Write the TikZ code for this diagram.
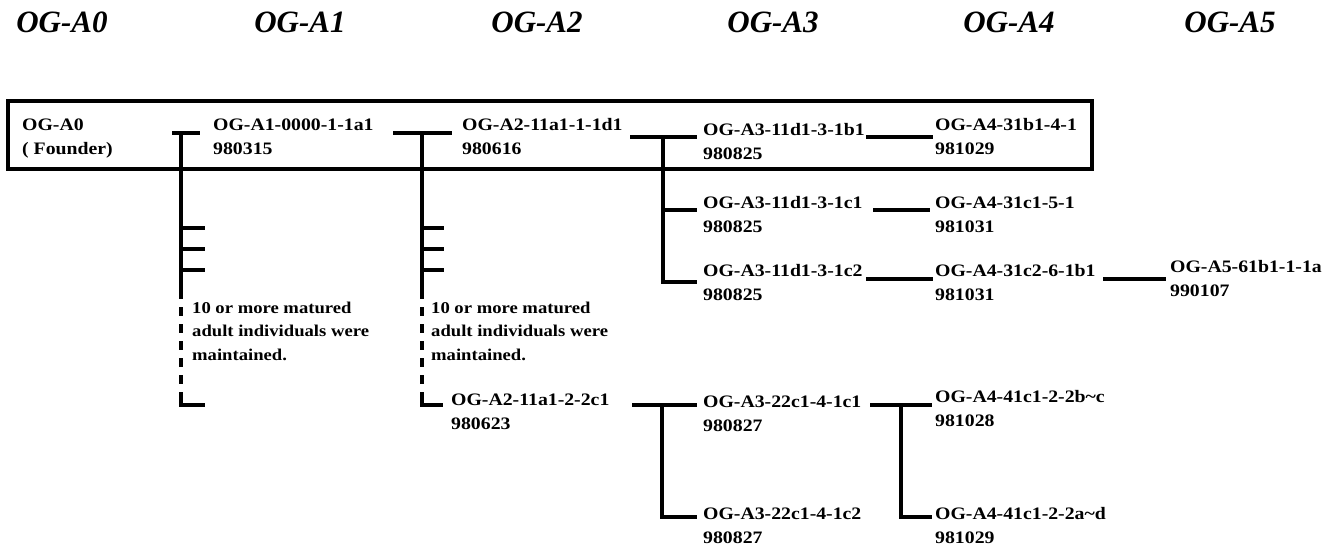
\documentclass[tikz,border=0pt]{standalone}
\usepackage{fontspec}
\setmainfont{Liberation Serif}
\newfontfamily\labfont{Liberation Serif}[FakeStretch=1.13]
\begin{document}
\begin{tikzpicture}[x=1pt,y=-1pt,
  hdr/.style={inner sep=0pt, font=\bfseries\itshape\fontsize{31}{36}\selectfont},
  lab/.style={anchor=base west, align=left, inner sep=0pt, font=\labfont\bfseries\fontsize{17.5}{24}\selectfont},
  note/.style={anchor=base west, align=left, inner sep=0pt, font=\labfont\bfseries\fontsize{16.5}{23.5}\selectfont},
  conn/.style={line width=3.2pt, line join=miter},
  dconn/.style={line width=3.2pt, dash pattern=on 9pt off 8pt},
  frame/.style={line width=3.2pt}]
\useasboundingbox (0,0) rectangle (1337,546);

% headers
\node[hdr] (h0) at (62,22) {OG-A0};
\node[hdr] (h1) at (300,22) {OG-A1};
\node[hdr] (h2) at (537,22) {OG-A2};
\node[hdr] (h3) at (773,22) {OG-A3};
\node[hdr] (h4) at (1009,22) {OG-A4};
\node[hdr] (h5) at (1230,22) {OG-A5};

% frame
\coordinate (fa) at (8,101);
\coordinate (fb) at (1092,169);
\draw[frame] (fa) rectangle (fb);

% labels (base anchor = baseline of the last line)
\node[lab] (a0) at (22,154) {OG-A0\\( Founder)};
\node[lab] (a1) at (213,154) {OG-A1-0000-1-1a1\\980315};
\node[lab] (a2) at (462,154) {OG-A2-11a1-1-1d1\\980616};
\node[lab] (a3r1) at (703,159) {OG-A3-11d1-3-1b1\\980825};
\node[lab] (a4r1) at (935,154) {OG-A4-31b1-4-1\\981029};
\node[lab] (a3r2) at (703,232) {OG-A3-11d1-3-1c1\\980825};
\node[lab] (a4r2) at (935,232) {OG-A4-31c1-5-1\\981031};
\node[lab] (a3r3) at (703,300) {OG-A3-11d1-3-1c2\\980825};
\node[lab] (a4r3) at (935,300) {OG-A4-31c2-6-1b1\\981031};
\node[lab] (a5) at (1170,296) {OG-A5-61b1-1-1a\\990107};
\node[note] (n1) at (192,360) {10 or more matured\\adult individuals were\\maintained.};
\node[note] (n2) at (431,360) {10 or more matured\\adult individuals were\\maintained.};
\node[lab] (a2b) at (451,429) {OG-A2-11a1-2-2c1\\980623};
\node[lab] (a3b1) at (703,431) {OG-A3-22c1-4-1c1\\980827};
\node[lab] (a3b2) at (703,543) {OG-A3-22c1-4-1c2\\980827};
\node[lab] (a4b1) at (935,426) {OG-A4-41c1-2-2b\char"7E c\\981028};
\node[lab] (a4b2) at (935,543) {OG-A4-41c1-2-2a\char"7E d\\981029};

% connector A0 -> A1
\coordinate (p1l) at (172,133); \coordinate (p1r) at (200,133);
\coordinate (p1t) at (181,133); \coordinate (p1s) at (181,290);
\coordinate (p1d) at (181,396); \coordinate (p1b) at (181,405); \coordinate (p1e) at (205,405);
\draw[conn] (p1l) -- (p1r);
\draw[conn] (p1t) -- (p1s);
\draw[dconn] (p1s) -- (p1d);
\draw[conn] (p1d) -- (p1b) -- (p1e);
\foreach \y [count=\i] in {228,249,270}{
  \coordinate (t1a\i) at (181,\y); \coordinate (t1b\i) at (205,\y);
  \draw[conn] (t1a\i) -- (t1b\i);}

% connector A1 -> A2
\coordinate (p2l) at (393,133); \coordinate (p2r) at (452,133);
\coordinate (p2t) at (422,133); \coordinate (p2s) at (422,290);
\coordinate (p2d) at (422,396); \coordinate (p2b) at (422,405); \coordinate (p2e) at (443,405);
\draw[conn] (p2l) -- (p2r);
\draw[conn] (p2t) -- (p2s);
\draw[dconn] (p2s) -- (p2d);
\draw[conn] (p2d) -- (p2b) -- (p2e);
\foreach \y [count=\i] in {228,249,270}{
  \coordinate (t2a\i) at (422,\y); \coordinate (t2b\i) at (444,\y);
  \draw[conn] (t2a\i) -- (t2b\i);}

% connector A2 -> A3
\coordinate (p3l) at (630,137); \coordinate (p3r) at (697,137);
\coordinate (p3t) at (663,137); \coordinate (p3m) at (663,210);
\coordinate (p3mr) at (697,210); \coordinate (p3b) at (663,282); \coordinate (p3br) at (697,282);
\draw[conn] (p3l) -- (p3r);
\draw[conn] (p3t) -- (p3b) -- (p3br);
\draw[conn] (p3m) -- (p3mr);

% A3 -> A4 rows
\coordinate (q1a) at (866,137); \coordinate (q1b) at (933,137);
\draw[conn] (q1a) -- (q1b);
\coordinate (q2a) at (873,210); \coordinate (q2b) at (930,210);
\draw[conn] (q2a) -- (q2b);
\coordinate (q3a) at (866,279); \coordinate (q3b) at (933,279);
\draw[conn] (q3a) -- (q3b);
\coordinate (q4a) at (1103,279); \coordinate (q4b) at (1166,279);
\draw[conn] (q4a) -- (q4b);

% lower: A2-2c1 -> A3
\coordinate (r1l) at (632,405); \coordinate (r1r) at (697,405);
\coordinate (r1t) at (662,405); \coordinate (r1b) at (662,517); \coordinate (r1e) at (697,517);
\draw[conn] (r1l) -- (r1r);
\draw[conn] (r1t) -- (r1b) -- (r1e);

% lower: A3-22c1-4-1c1 -> A4
\coordinate (s1l) at (870,405); \coordinate (s1r) at (932,405);
\coordinate (s1t) at (901,405); \coordinate (s1b) at (901,517); \coordinate (s1e) at (932,517);
\draw[conn] (s1l) -- (s1r);
\draw[conn] (s1t) -- (s1b) -- (s1e);
\end{tikzpicture}
\end{document}
